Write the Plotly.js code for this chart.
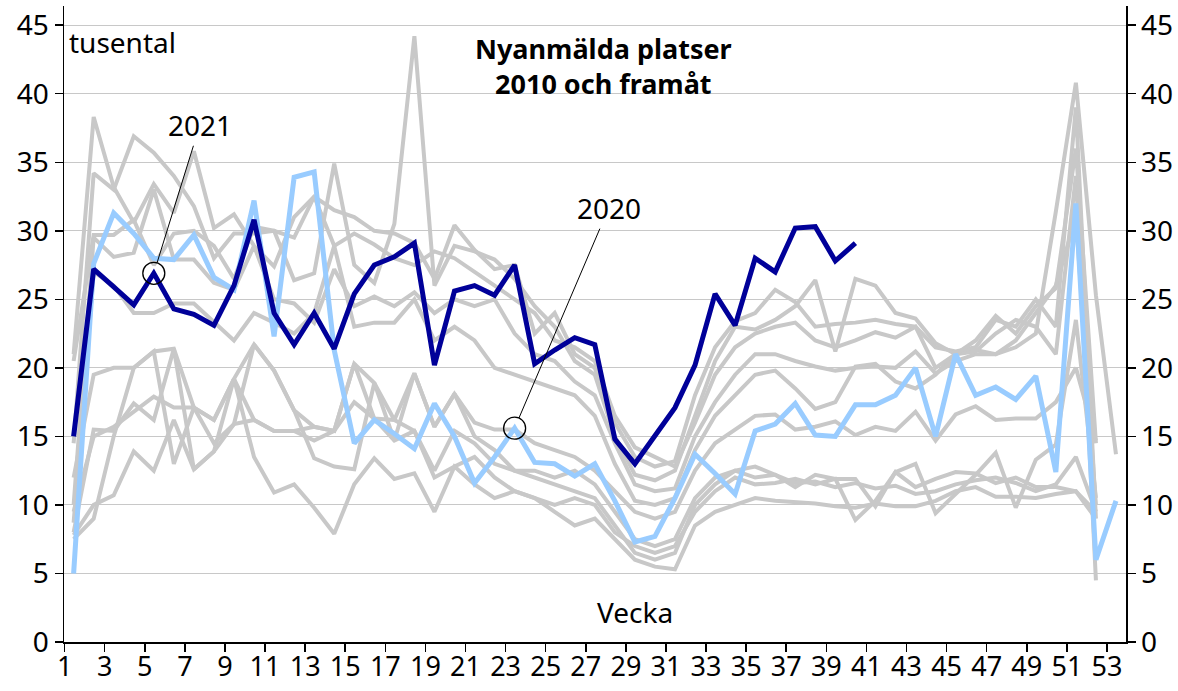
<!DOCTYPE html>
<html>
<head>
<meta charset="utf-8">
<script src="https://cdn.plot.ly/plotly-3.0.1.min.js"></script>
<style>
html,body{margin:0;padding:0;background:#fff;}
#chart{width:1178px;height:691px;}
</style>
</head>
<body>
<div id="chart"></div>
<script>
// ---- data (thousands of newly registered vacancies per week) ----
const weeks = [1,2,3,4,5,6,7,8,9,10,11,12,13,14,15,16,17,18,19,20,21,22,23,24,25,26,27,28,29,30,31,32,33,34,35,36,37,38,39,40,41,42,43,44,45,46,47,48,49,50,51,52,53];
const tickWeeks = [1,3,5,7,9,11,13,15,17,19,21,23,25,27,29,31,33,35,37,39,41,43,45,47,49,51,53];
const yTicks = [0,5,10,15,20,25,30,35,40,45];

const y2010 = [7.5,9.0,15.0,20.0,21.2,13.0,17.1,16.2,19.2,16.2,15.4,15.4,15.7,15.4,20.3,16.3,16.2,15.4,12.0,12.8,13.5,12.0,11.0,10.5,10.0,10.5,10.0,8.0,7.0,6.5,7.0,9.5,11.0,12.0,11.5,11.6,11.9,11.5,11.9,8.9,10.3,12.4,13.0,9.4,10.8,12.2,13.8,9.8,13.3,14.4,23.5,10.5];
const y2011 = [8.0,15.5,15.4,17.4,16.2,21.4,12.6,13.9,15.9,21.7,19.8,16.9,13.4,12.8,12.6,18.9,14.7,19.6,15.7,18.1,15.0,14.0,12.5,12.0,11.5,11.0,10.5,8.5,6.5,6.0,6.5,10.0,11.5,12.5,12.0,12.2,11.3,12.2,11.9,11.9,9.9,12.4,11.3,11.9,12.4,12.3,11.6,12.0,11.3,11.3,11.0,9.5];
const y2012 = [7.8,10.0,10.7,13.9,12.5,16.2,12.6,13.9,19.2,13.5,10.9,11.5,9.8,7.9,11.5,13.4,11.9,12.3,9.5,12.8,11.5,10.5,11.0,10.5,9.5,8.5,9.0,7.5,6.0,5.5,5.3,8.5,9.5,10.0,10.5,10.3,10.2,10.1,9.9,9.8,10.1,9.9,9.9,10.3,11.0,11.3,10.6,10.6,10.5,10.8,11.0,9.0];
const y2013 = [9.5,15.0,15.7,16.8,17.9,17.1,17.1,14.5,15.9,16.2,15.4,15.4,14.7,15.4,17.5,16.3,14.7,15.4,12.5,15.4,14.5,13.0,12.5,12.5,12.0,12.5,11.5,9.5,7.5,7.0,7.5,10.5,12.0,12.5,12.8,12.2,11.6,11.7,11.3,11.6,11.2,11.4,10.8,11.0,11.5,11.8,12.0,11.6,11.0,11.5,13.5,9.5];
const y2014 = [12.0,19.5,20.0,20.0,21.2,21.4,17.1,16.2,19.2,21.7,19.8,16.9,15.7,15.4,20.3,18.9,16.2,19.6,15.7,18.1,16.0,15.5,15.5,14.5,14.0,13.5,12.5,11.0,9.5,9.0,9.5,12.5,14.5,15.5,16.5,16.6,15.5,15.7,16.1,15.1,15.7,15.4,16.8,14.7,16.6,17.2,16.2,16.3,16.3,17.5,20.0,14.7];
const y2015 = [8.7,27.0,26.0,24.0,24.0,24.7,24.7,23.3,22.0,24.0,23.3,22.5,24.0,28.9,23.0,23.3,23.3,25.0,22.0,23.0,22.0,20.0,19.5,19.0,18.5,18.0,16.5,13.0,10.3,10.0,10.5,14.0,16.5,18.0,19.5,19.8,18.5,17.0,17.5,20.1,20.3,19.0,18.5,19.5,21.0,21.3,21.0,21.5,22.5,31.4,40.8,25.3,13.7];
const y2016 = [10.0,29.5,28.1,28.4,33.0,27.9,27.9,26.2,25.7,28.9,25.0,24.7,23.3,27.2,24.5,25.2,24.5,25.5,24.0,25.0,24.5,25.0,22.5,21.0,20.5,19.0,18.0,14.5,11.5,11.0,11.2,15.0,17.5,19.5,21.0,21.0,20.5,20.1,19.8,20.0,20.1,20.0,21.2,19.6,20.5,21.0,21.0,22.0,24.0,26.0,31.0,10.0];
const y2017 = [14.5,34.2,33.0,36.9,35.7,34.0,31.8,28.0,29.8,29.8,30.0,29.5,32.5,28.9,29.8,29.0,28.0,27.5,28.5,28.0,27.0,26.0,25.0,24.0,22.0,21.5,20.5,16.5,14.2,13.5,12.8,16.0,19.5,21.5,22.5,23.0,23.3,22.0,21.5,22.0,22.6,22.2,23.0,20.0,21.0,21.2,22.5,23.5,23.0,21.0,34.0,4.5];
const y2018 = [21.0,38.3,33.2,30.6,33.4,31.3,35.8,30.2,31.2,28.9,27.4,31.0,32.5,31.5,31.0,30.0,29.8,29.1,26.5,30.4,28.6,27.2,27.5,22.5,24.0,21.0,20.0,16.0,13.5,12.8,13.2,18.0,21.5,23.4,24.0,25.7,24.8,23.0,23.2,23.3,23.5,23.2,23.0,21.5,21.2,21.5,23.5,23.0,25.0,23.0,39.0,9.0];
const y2019 = [20.5,29.7,29.7,30.8,27.5,29.8,30.0,28.9,26.5,30.3,30.0,26.4,26.9,34.9,27.5,26.2,30.5,44.2,26.0,28.9,28.5,27.9,26.5,24.5,23.0,20.5,19.5,15.0,12.2,11.8,12.5,16.5,20.5,23.0,22.8,23.5,24.5,26.4,21.2,26.5,26.0,24.0,23.6,21.8,21.0,22.0,23.8,22.5,24.5,25.8,36.0,14.5];
const y2020 = [5.0,27.6,31.3,29.8,28.0,27.9,29.7,26.6,25.7,32.2,22.3,33.9,34.3,21.3,14.5,16.2,15.2,14.1,17.4,15.0,11.6,13.5,15.6,13.1,13.0,12.1,13.0,10.3,7.3,7.7,10.5,13.7,12.3,10.8,15.4,15.9,17.4,15.1,15.0,17.3,17.3,18.0,20.0,15.0,21.0,18.0,18.6,17.7,19.4,12.4,32.0,6.0,10.3];
const y2021 = [15.0,27.2,25.9,24.6,26.9,24.3,23.9,23.1,26.0,30.8,24.0,21.7,24.0,21.4,25.4,27.5,28.1,29.1,20.2,25.6,26.0,25.3,27.5,20.3,21.3,22.2,21.7,14.8,13.0,15.0,17.1,20.2,25.4,23.1,28.0,27.0,30.2,30.3,27.8,29.1];

const grayYears = [y2010, y2011, y2012, y2013, y2014, y2015, y2016, y2017, y2018, y2019];
const label2021 = '2021', week2021 = 5;
const label2020 = '2020', week2020 = 23;

// points are drawn in the middle of each week
const MID = 0.45;
const xs = n => weeks.slice(0, n).map(w => w + MID);

const traces = [];
grayYears.forEach(v => traces.push({
  x: xs(v.length), y: v, type: 'scatter', mode: 'lines',
  line: {color: '#c8c8c8', width: 4}, hoverinfo: 'skip'
}));
traces.push({x: xs(y2020.length), y: y2020, type: 'scatter', mode: 'lines',
  line: {color: '#99ccff', width: 5}, hoverinfo: 'skip'});
traces.push({x: xs(y2021.length), y: y2021, type: 'scatter', mode: 'lines',
  line: {color: '#000099', width: 5}, hoverinfo: 'skip'});
traces.push({
  x: [week2021 + MID, week2020 + MID],
  y: [y2021[week2021 - 1], y2020[week2020 - 1]],
  type: 'scatter', mode: 'markers', yaxis: 'y2',
  marker: {symbol: 'circle-open', size: 22, color: '#000', line: {width: 1.3, color: '#000'}},
  hoverinfo: 'skip'
});

const yMax = 46.4;
const FS = 28;
const axFont = {family: 'Noto Sans, sans-serif', size: FS, color: '#000'};
const xTickFont = {family: 'Noto Sans, sans-serif', size: 27, color: '#000'};
const titleFont = {family: 'Noto Sans, sans-serif', size: 27, color: '#000'};
const layout = {
  width: 1178, height: 691,
  margin: {l: 64, r: 52, t: 6, b: 49, pad: 0},
  paper_bgcolor: '#fff', plot_bgcolor: '#fff',
  showlegend: false,
  font: axFont,
  xaxis: {
    range: [0.97, 53.95], tickmode: 'array', tickvals: tickWeeks, ticktext: tickWeeks.map(String),
    ticks: 'outside', ticklen: 8, tickwidth: 1.5, tickcolor: '#000',
    ticklabelstandoff: -8,
    showline: true, linecolor: '#000', linewidth: 1.5,
    showgrid: false, zeroline: false, tickfont: xTickFont, fixedrange: true
  },
  yaxis: {
    range: [0, yMax], tickmode: 'array', tickvals: yTicks, ticktext: yTicks.map(String),
    ticks: 'outside', ticklen: 8, tickwidth: 1.5, tickcolor: '#000',
    showline: true, linecolor: '#000', linewidth: 1.5,
    showgrid: true, gridcolor: '#c8c8c8', gridwidth: 1,
    zeroline: false, tickfont: axFont, fixedrange: true
  },
  yaxis2: {
    overlaying: 'y', side: 'right',
    range: [0, yMax], tickmode: 'array', tickvals: yTicks, ticktext: yTicks.map(String),
    ticks: 'outside', ticklen: 8, tickwidth: 1.5, tickcolor: '#000',
    showline: true, linecolor: '#000', linewidth: 1.5,
    showgrid: false, zeroline: false, tickfont: axFont, fixedrange: true
  },
  annotations: [
    {xref: 'paper', yref: 'paper', x: 0.508, y: 0.906,
     text: '<b>Nyanmälda platser</b><br><b>2010 och framåt</b>',
     showarrow: false, xanchor: 'center', yanchor: 'middle', align: 'center', font: titleFont},
    {xref: 'paper', yref: 'paper', x: 0.003, y: 0.943, text: 'tusental',
     showarrow: false, xanchor: 'left', yanchor: 'middle', font: axFont},
    {xref: 'paper', yref: 'paper', x: 0.538, y: 0.047, text: 'Vecka',
     showarrow: false, xanchor: 'center', yanchor: 'middle', font: axFont},
    {xref: 'x', yref: 'y', x: week2021 + MID, y: y2021[week2021 - 1], text: label2021,
     showarrow: true, arrowhead: 0, arrowwidth: 1, arrowcolor: '#000', standoff: 11,
     ax: 46, ay: -148, font: axFont},
    {xref: 'x', yref: 'y', x: week2020 + MID, y: y2020[week2020 - 1], text: label2020,
     showarrow: true, arrowhead: 0, arrowwidth: 1, arrowcolor: '#000', standoff: 11,
     ax: 94, ay: -220, font: axFont}
  ]
};

Plotly.newPlot('chart', traces, layout, {staticPlot: true, displayModeBar: false});
</script>
</body>
</html>
